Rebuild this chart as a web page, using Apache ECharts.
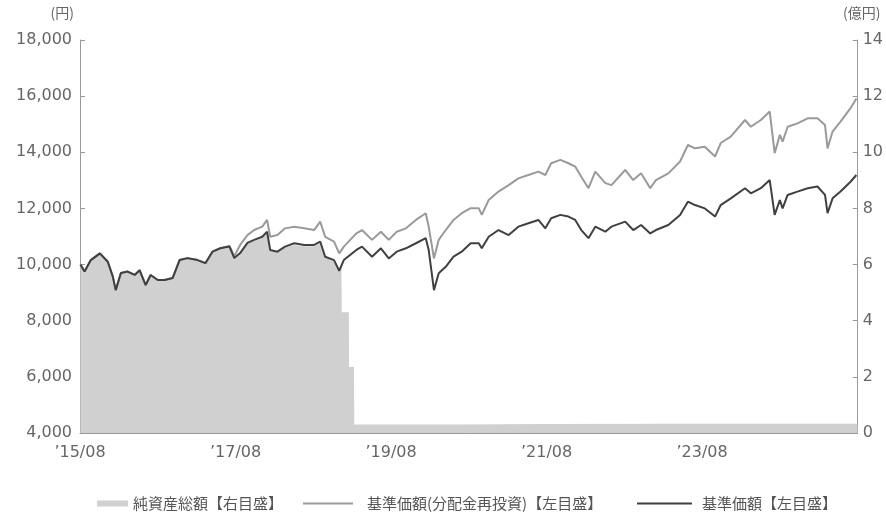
<!DOCTYPE html>
<html>
<head>
<meta charset="utf-8">
<script src="https://cdn.jsdelivr.net/npm/echarts@6/dist/echarts.min.js"></script>
<style>
html,body{margin:0;padding:0;background:#fff;}
#chart{width:886px;height:514px;}
</style>
</head>
<body>
<div id="chart"></div>
<script>
// ---- data ----
const dates = [
'2015-08-03','2015-08-23','2015-09-21','2015-11-03','2015-12-10','2016-01-03','2016-01-17','2016-02-10',
'2016-03-12','2016-04-14','2016-05-07','2016-06-05','2016-06-28','2016-08-01','2016-09-03','2016-10-10',
'2016-11-12','2016-12-19','2017-02-05','2017-03-12','2017-04-14','2017-05-21','2017-07-03','2017-07-26',
'2017-08-23','2017-09-26','2017-10-28','2017-12-05','2017-12-28','2018-01-12','2018-02-14','2018-03-21',
'2018-05-03','2018-06-19','2018-08-05','2018-09-03','2018-09-26','2018-11-07','2018-12-01','2018-12-23',
'2019-02-19','2019-03-17','2019-05-03','2019-06-14','2019-07-21','2019-08-28','2019-10-10','2019-11-26',
'2020-01-12','2020-01-26','2020-02-19','2020-03-12','2020-04-14','2020-05-21','2020-06-28','2020-08-10',
'2020-09-17','2020-10-01','2020-11-03','2020-12-19','2021-02-05','2021-03-21','2021-05-07','2021-06-23',
'2021-07-26','2021-08-23','2021-10-05','2021-11-12','2021-12-14','2022-01-12','2022-02-14','2022-03-17',
'2022-05-03','2022-06-01','2022-08-05','2022-09-12','2022-10-19','2022-12-01','2022-12-28','2023-02-23',
'2023-04-19','2023-05-26','2023-06-28','2023-08-14','2023-10-01','2023-10-28','2023-12-14','2024-02-19',
'2024-03-17','2024-05-03','2024-06-14','2024-07-07','2024-08-01','2024-08-14','2024-09-07','2024-10-23',
'2024-12-10','2025-01-26','2025-02-28','2025-03-12','2025-04-05','2025-05-12','2025-06-28','2025-07-26'
];
// 基準価額 (yen)
const navBase = [
10000,9750,10160,10400,10100,9570,9090,9700,
9750,9630,9800,9270,9630,9450,9450,9520,
10160,10230,10160,10050,10460,10580,10640,10230,
10410,10770,10880,10990,11170,10520,10460,10640,
10760,10700,10700,10820,10280,10160,9780,10160,
10520,10640,10280,10580,10220,10460,10580,10760,
10940,10520,9090,9690,9920,10280,10460,10760,
10760,10580,10990,11230,11050,11350,11470,11590,
11290,11650,11770,11710,11590,11230,10940,11350,
11170,11350,11530,11230,11410,11110,11230,11410,
11770,12240,12120,12000,11710,12120,12360,12720,
12540,12720,13010,11770,12300,12000,12480,12600,
12720,12780,12480,11830,12360,12600,12950,13190
];
// 基準価額(分配金再投資) (yen)
const navReinvested = [
10000,9750,10160,10400,10100,9570,9090,9700,
9750,9630,9800,9270,9630,9450,9450,9520,
10160,10230,10160,10050,10460,10580,10660,10300,
10700,11050,11230,11350,11590,10990,11050,11290,
11350,11290,11230,11530,10990,10820,10400,10640,
11110,11230,10880,11170,10880,11170,11290,11590,
11830,11350,10220,10880,11230,11590,11830,12010,
12010,11770,12300,12600,12830,13070,13190,13310,
13190,13610,13730,13610,13490,13130,12720,13310,
12900,12830,13370,13010,13250,12720,13010,13250,
13670,14260,14140,14200,13850,14330,14560,15150,
14910,15150,15450,13970,14620,14380,14910,15030,
15210,15210,14970,14140,14740,15090,15570,15920
];
// 純資産総額 (億円)
const assetDates = [
'2015-08-03','2015-08-23','2015-09-21','2015-11-03','2015-12-10','2016-01-03','2016-01-17','2016-02-10',
'2016-03-12','2016-04-14','2016-05-07','2016-06-05','2016-06-28','2016-08-01','2016-09-03','2016-10-10',
'2016-11-12','2016-12-19','2017-02-05','2017-03-12','2017-04-14','2017-05-21','2017-07-03','2017-07-26',
'2017-08-23','2017-09-26','2017-10-28','2017-12-05','2017-12-28','2018-01-12','2018-02-14','2018-03-21',
'2018-05-03','2018-06-19','2018-08-05','2018-09-03','2018-09-26','2018-11-07','2018-12-01','2018-12-12',
'2018-12-13','2019-01-16','2019-01-17','2019-02-09','2019-02-10','2020-06-01','2021-08-01','2023-01-01',
'2024-06-01','2025-07-31'
];
const assetValues = [
6.0,5.75,6.15,6.4,6.1,5.55,5.1,5.7,
5.75,5.6,5.8,5.25,5.6,5.45,5.45,5.5,
6.15,6.2,6.15,6.05,6.45,6.55,6.6,6.25,
6.4,6.75,6.85,6.95,7.1,6.5,6.45,6.6,
6.7,6.65,6.65,6.75,6.25,6.1,5.75,6.0,
4.3,4.3,2.35,2.35,0.3,0.3,0.32,0.33,
0.33,0.33
];
const xTickYears = ['15','17','19','21','23'];
const names = ['純資産総額【右目盛】','基準価額(分配金再投資)【左目盛】','基準価額【左目盛】'];

// ---- helpers ----
function toMonths(s){
  const p = s.split('-').map(Number);
  const dim = new Date(Date.UTC(p[0], p[1], 0)).getUTCDate();
  return (p[0]-2015)*12 + (p[1]-8) + (p[2]-1)/dim;
}
const pairs = (ds, vs) => ds.map((d,i)=>[toMonths(d), vs[i]]);

const axisColor = '#9a9a9a';
const labelStyle = {color:'#666', fontSize:16, fontFamily:'DejaVu Sans'};
const chart = echarts.init(document.getElementById('chart'));
const legendText = {color:'#555', fontSize:15, fontFamily:'Noto Sans CJK JP'};

chart.setOption({
  animation:false,
  backgroundColor:'#fff',
  grid:{left:80, right:26, top:40, bottom:81},
  legend:[
    {data:[{name:names[0], icon:'rect'}], left:97, top:496, padding:0, itemWidth:31, itemHeight:6, textStyle:legendText, selectedMode:false},
    {data:[{name:names[1], icon:'rect'}], left:303, top:496, padding:0, itemWidth:50, itemHeight:2, textStyle:Object.assign({padding:[0,0,0,9]}, legendText), selectedMode:false},
    {data:[{name:names[2], icon:'rect'}], left:637, top:496, padding:0, itemWidth:55, itemHeight:2, textStyle:Object.assign({padding:[0,0,0,5]}, legendText), selectedMode:false}
  ],
  xAxis:{
    type:'value', min:0, max:120, interval:24,
    axisLine:{lineStyle:{color:axisColor, width:1}},
    axisTick:{show:true, inside:true, length:4, lineStyle:{color:axisColor}},
    splitLine:{show:false},
    axisLabel:Object.assign({margin:12, formatter:function(v){
      const i = Math.round(v/24);
      return i < xTickYears.length ? '\u2019' + xTickYears[i] + '/08' : '';
    }}, labelStyle)
  },
  yAxis:[
    {
      type:'value', min:4000, max:18000, interval:2000, position:'left',
      name:'(円)', nameLocation:'end', nameGap:20,
      nameTextStyle:{color:'#666', fontSize:14, fontFamily:'Noto Sans CJK JP', align:'right', padding:[0,6,0,0]},
      axisLine:{show:true, lineStyle:{color:axisColor}},
      axisTick:{show:true, inside:true, length:5, lineStyle:{color:axisColor}},
      splitLine:{show:false},
      axisLabel:Object.assign({margin:8, formatter:v=>v.toLocaleString('en-US')}, labelStyle)
    },
    {
      type:'value', min:0, max:14, interval:2, position:'right',
      name:'(億円)', nameLocation:'end', nameGap:20,
      nameTextStyle:{color:'#666', fontSize:14, fontFamily:'Noto Sans CJK JP', align:'center', padding:[0,0,0,8]},
      axisLine:{show:true, lineStyle:{color:axisColor}},
      axisTick:{show:true, inside:true, length:5, lineStyle:{color:axisColor}},
      splitLine:{show:false},
      axisLabel:Object.assign({margin:5}, labelStyle)
    }
  ],
  series:[
    {
      name:names[0], type:'line', yAxisIndex:1, symbol:'none', z:1,
      data:pairs(assetDates, assetValues),
      color:'#d0d0d0',
      lineStyle:{width:0, color:'#d0d0d0'},
      areaStyle:{color:'#d0d0d0', opacity:1}
    },
    {
      name:names[1], type:'line', yAxisIndex:0, symbol:'none', z:3,
      data:pairs(dates, navReinvested),
      color:'#9a9a9a',
      lineStyle:{width:2, color:'#9a9a9a'}
    },
    {
      name:names[2], type:'line', yAxisIndex:0, symbol:'none', z:4,
      data:pairs(dates, navBase),
      color:'#404040',
      lineStyle:{width:2, color:'#404040'}
    }
  ]
});
</script>
</body>
</html>
